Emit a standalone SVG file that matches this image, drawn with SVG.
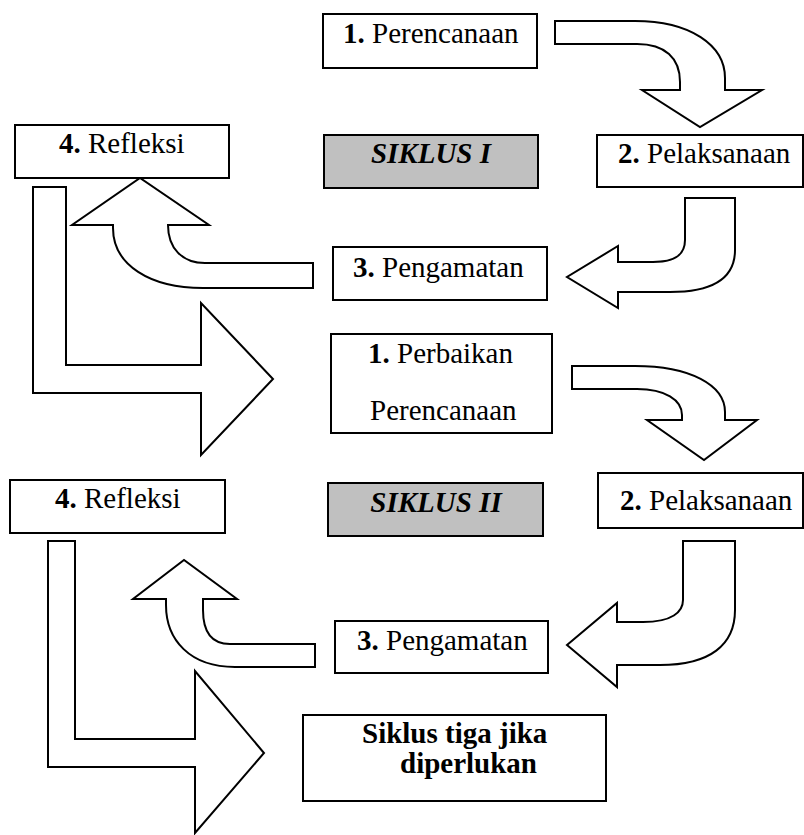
<svg xmlns="http://www.w3.org/2000/svg" width="804" height="835" viewBox="0 0 804 835">
<style>
.box{fill:#fff;stroke:#000;stroke-width:2}
.gray{fill:#c0c0c0;stroke:#000;stroke-width:2}
.arr{fill:#fff;stroke:#000;stroke-width:2;stroke-linejoin:miter}
text{font-family:"Liberation Serif","Times New Roman",serif;font-size:29px;fill:#000}
.b{font-weight:bold}
.bi{font-weight:bold;font-style:italic}
</style>
<rect width="804" height="835" fill="#fff"/>
<g id="connectors">
<path class="arr" d="M555,21 L635,21 C690,21 725,45 725,78 L725,90 L762,90 L700,127 L642,90 L680,90 L680,82 C680,58 665,44 637,44 L555,44 Z"/>
<path class="arr" d="M685,198 L735,198 L735,250 C735,280 710,292 670,292 L618,292 L618,308 L567,277 L618,246 L618,262 L653,262 C675,262 685,255 685,240 Z"/>
<path class="arr" d="M313,263 L313,288 L203,288 C150,288 113,265 113,228 L113,225 L72,225 L140,178 L209,225 L168,225 C168,248 182,263 205,263 Z"/>
<path class="arr" d="M33,187 L66,187 L66,365 L201,365 L201,303 L273,379 L201,455 L201,393 L33,393 Z"/>
<path class="arr" d="M572,366 L635,366 C690,366 725,385 725,412 L725,420 L757,420 L704,460 L647,420 L682,420 L682,415 C682,400 665,389 637,389 L572,389 Z"/>
<path class="arr" d="M683,541 L735,541 L735,610 C735,645 710,665 660,665 L617,665 L617,687 L567,645 L617,603 L617,622 L643,622 C672,622 683,612 683,600 Z"/>
<path class="arr" d="M315,644 L315,667 L235,667 C190,667 166,640 166,605 L166,599 L133,599 L184,560 L237,599 L203,599 L203,610 C203,632 212,644 230,644 Z"/>
<path class="arr" d="M48,541 L75,541 L75,739 L195,739 L195,671 L264,753 L195,833 L195,767 L48,767 Z"/>
</g>
<g id="n1">
<rect class="box" x="323" y="14" width="214" height="54"/>
<text x="343" y="43"><tspan class="b">1.</tspan> Perencanaan</text>
</g>
<g id="siklus1">
<rect class="gray" x="324" y="135" width="214" height="53"/>
<text class="bi" x="431" y="163" text-anchor="middle">SIKLUS I</text>
</g>
<g id="n2">
<rect class="box" x="597" y="135" width="206" height="52"/>
<text x="618" y="163"><tspan class="b">2.</tspan> Pelaksanaan</text>
</g>
<g id="n4">
<rect class="box" x="15" y="125" width="214" height="53"/>
<text x="59" y="153"><tspan class="b">4.</tspan> Refleksi</text>
</g>
<g id="n3">
<rect class="box" x="333" y="247" width="214" height="53"/>
<text x="353" y="277"><tspan class="b">3.</tspan> Pengamatan</text>
</g>
<g id="n1b">
<rect class="box" x="331" y="334" width="221" height="99"/>
<text x="368" y="363"><tspan class="b">1.</tspan> Perbaikan</text>
<text x="370" y="420">Perencanaan</text>
</g>
<g id="siklus2">
<rect class="gray" x="328" y="483" width="215" height="53"/>
<text class="bi" x="436" y="512" text-anchor="middle">SIKLUS II</text>
</g>
<g id="n2b">
<rect class="box" x="598" y="473" width="205" height="55"/>
<text x="620" y="510"><tspan class="b">2.</tspan> Pelaksanaan</text>
</g>
<g id="n4b">
<rect class="box" x="10" y="480" width="215" height="53"/>
<text x="55" y="508"><tspan class="b">4.</tspan> Refleksi</text>
</g>
<g id="n3b">
<rect class="box" x="335" y="621" width="213" height="52"/>
<text x="357" y="650"><tspan class="b">3.</tspan> Pengamatan</text>
</g>
<g id="n5">
<rect class="box" x="303" y="715" width="303" height="86"/>
<text class="b" x="362" y="743">Siklus tiga jika</text>
<text class="b" x="400" y="773">diperlukan</text>
</g>
</svg>
